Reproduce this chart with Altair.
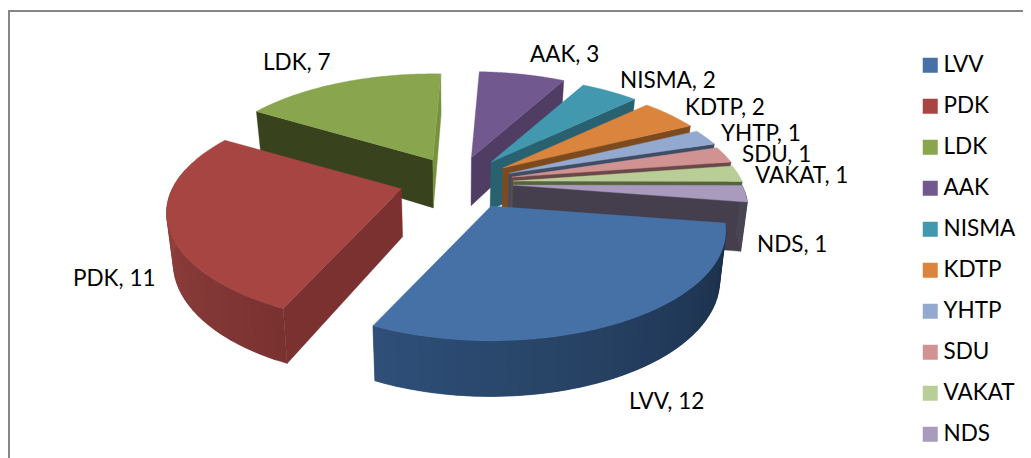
import math
import altair as alt

# --- data
parties = ["LVV", "PDK", "LDK", "AAK", "NISMA", "KDTP", "YHTP", "SDU", "VAKAT", "NDS"]
seats = [12, 11, 7, 3, 2, 2, 1, 1, 1, 1]

# --- styles
top_colors = ["#4571a6", "#a74543", "#89a54e", "#71588f", "#4198af",
              "#db843d", "#93a9cf", "#d19392", "#b9cd96", "#a99bbd"]
start_wall = {"PDK": "#7b3130", "LDK": "#38421d"}
end_wall = {"LDK": "#76923c", "AAK": "#4f3d63", "NISMA": "#2a6170", "KDTP": "#7d4a1e",
            "YHTP": "#3e4d66", "SDU": "#6b4847", "VAKAT": "#566340", "NDS": "#443e4d"}
arc_wall = {"LVV": ("#1a2e47", "#2f4f78"), "PDK": ("#7a3231", "#a04a46"),
            "NDS": ("#4a4553", "#4a4553")}

# --- layout (page pixels)
OX, OY = 8, 8
CX, CY = 456, 183          # pie centre
RX, RY, K = 229, 105, 0.22 # projection of the tilted disc
EXPLODE = 0.25
DEPTH, DEPTH_K, SQUEEZE = 48, 0.16, 0.977
ROTATION = 99.0
nudge = {"LVV": (8, 0), "LDK": (4, 0), "PDK": (0, -2)}
paint_order = ["LDK", "AAK", "NISMA", "KDTP", "YHTP", "SDU", "VAKAT", "NDS", "PDK", "LVV"]
label_x = [629, 73, 263, 530, 620, 685, 721, 742, 755, 757]
label_y = [402, 279, 63, 55, 81, 108, 134, 155, 176, 245]
FONT_SIZE = 22.5


def proj(theta, r=1.0):
    t = math.radians(theta)
    X, Y = r * math.sin(t), -r * math.cos(t)
    d = 1 - K * Y
    return RX * X / d, RY * Y / d


def mix(a, b, t):
    ca = [int(a[i:i + 2], 16) for i in (1, 3, 5)]
    cb = [int(b[i:i + 2], 16) for i in (1, 3, 5)]
    return "#" + "".join("%02x" % round(x + (y - x) * t) for x, y in zip(ca, cb))


total = sum(seats)
spans = {}
a = ROTATION
for p, s in zip(parties, seats):
    spans[p] = (a, a + 360.0 * s / total)
    a += 360.0 * s / total

features = []


def add(key, ring):
    ring = [[round(x - OX, 2), round(y - OY, 2)] for x, y in ring]
    ring.append(ring[0])
    features.append({"type": "Feature",
                     "geometry": {"type": "Polygon", "coordinates": [ring]},
                     "properties": {"k": key}})


def bottom(pt, yr):
    x, y = pt
    return (CX + (x - CX) * SQUEEZE, y + DEPTH * (1 + DEPTH_K * yr))


for p in paint_order:
    a1, a2 = spans[p]
    mid = math.radians((a1 + a2) / 2)
    nx, ny = nudge.get(p, (0, 0))
    ax = CX + EXPLODE * RX * math.sin(mid) + nx
    ay = CY - EXPLODE * RY * math.cos(mid) + ny
    apex = (ax, ay)

    def pt(theta):
        dx, dy = proj(theta)
        return (ax + dx, ay + dy)

    def yr(theta):
        return -math.cos(math.radians(theta))

    def edge(theta, color):
        q = pt(theta)
        add(color, [apex, q, bottom(q, yr(theta)), bottom(apex, 0)])

    if p in start_wall:
        edge(a1, start_wall[p])
    if p in end_wall:
        edge(a2, end_wall[p])
    if p in arc_wall:
        n = max(2, int((a2 - a1) / 2.5))
        for i in range(n):
            t1 = a1 + (a2 - a1) * i / n
            t2 = min(a2, a1 + (a2 - a1) * (i + 2) / n)   # overlap the next strip
            if math.cos(math.radians(t1)) > 0.1:
                continue
            c = mix(arc_wall[p][0], arc_wall[p][1], i / (n - 1))
            steps = [t1 + (t2 - t1) * j / 4 for j in range(5)]
            upper = [pt(t) for t in steps]
            lower = [bottom(pt(t), yr(t)) for t in reversed(steps)]
            add(c, upper + lower)
    n = 90
    add(p, [apex] + [pt(a1 + (a2 - a1) * i / n) for i in range(n + 1)])

extra = []
for f in features:
    k = f["properties"]["k"]
    if k not in parties and k not in extra:
        extra.append(k)
domain = parties + extra
rng = top_colors + extra
scale = alt.Scale(domain=domain, range=rng)

pie = alt.Chart(alt.Data(values=features)).mark_geoshape(strokeWidth=0.4).encode(
    fill=alt.Fill("properties.k:N", scale=scale,
                  legend=alt.Legend(values=parties, title=None, orient="none",
                                    legendX=919 - OX, legendY=46, symbolType="square",
                                    symbolSize=225, symbolStrokeWidth=0,
                                    labelFont="Lato", labelFontSize=FONT_SIZE, labelColor="#000000",
                                    labelOffset=2, rowPadding=18, labelLimit=200, padding=0)),
    stroke=alt.Stroke("properties.k:N", scale=scale, legend=None),
).project(type="identity", scale=1, translate=[0, 0])

label_rows = [{"text": f"{p}, {s}", "x": x - OX, "y": y - OY}
              for p, s, x, y in zip(parties, seats, label_x, label_y)]
labels = alt.Chart(alt.Data(values=label_rows)).mark_text(
    align="left", baseline="middle", font="Lato", fontSize=FONT_SIZE, color="#000000"
).encode(x=alt.X("x:Q", scale=None), y=alt.Y("y:Q", scale=None), text="text:N")

frame_top = alt.Chart(alt.Data(values=[{"a": 0}])).mark_rule(color="#868686", strokeWidth=2).encode(
    x=alt.value(0), x2=alt.value(1015), y=alt.value(3))
frame_left = alt.Chart(alt.Data(values=[{"a": 0}])).mark_rule(color="#868686", strokeWidth=2).encode(
    x=alt.value(1), y=alt.value(2), y2=alt.value(450))

chart = alt.layer(frame_top, frame_left, pie, labels).properties(
    width=1015, height=450, padding=0, autosize="none"
).configure_view(stroke=None)

chart.save("out.html", embed_options={"renderer": "svg", "actions": False})
